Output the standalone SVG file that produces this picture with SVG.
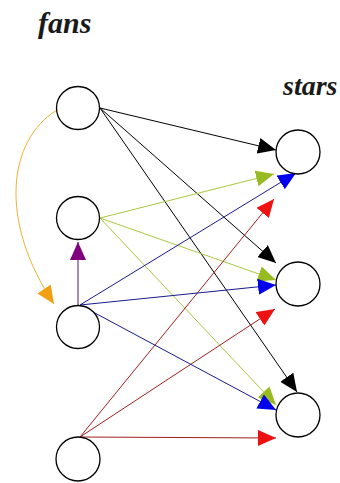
<svg xmlns="http://www.w3.org/2000/svg" width="340" height="483" viewBox="0 0 340 483">
<style>
.node{fill:#fff;stroke:#000;stroke-width:1.3}
.lbl{font-family:'Liberation Serif','Times New Roman',serif;font-weight:700;font-style:italic;fill:#1a1a1a}
.e{fill:none;stroke-width:1}
.k{stroke:#000}
.g{stroke:#a8c840}
.b{stroke:#1a1a8c}
.r{stroke:#a02020}
.p{stroke:#4a1a6a}
.o{stroke:#f0b030}
</style>
<defs>
<marker id="ak" markerUnits="userSpaceOnUse" markerWidth="18" markerHeight="16" refX="18" refY="8" orient="auto"><path d="M0,0 L18,8 L0,16 z" fill="#000"/></marker>
<marker id="ag" markerUnits="userSpaceOnUse" markerWidth="18" markerHeight="16" refX="18" refY="8" orient="auto"><path d="M0,0 L18,8 L0,16 z" fill="#99bb22"/></marker>
<marker id="ab" markerUnits="userSpaceOnUse" markerWidth="18" markerHeight="16" refX="18" refY="8" orient="auto"><path d="M0,0 L18,8 L0,16 z" fill="#0000ee"/></marker>
<marker id="ar" markerUnits="userSpaceOnUse" markerWidth="18" markerHeight="16" refX="18" refY="8" orient="auto"><path d="M0,0 L18,8 L0,16 z" fill="#ee1111"/></marker>
<marker id="ap" markerUnits="userSpaceOnUse" markerWidth="18" markerHeight="16" refX="18" refY="8" orient="auto"><path d="M0,0 L18,8 L0,16 z" fill="#800080"/></marker>
<marker id="ao" markerUnits="userSpaceOnUse" markerWidth="18" markerHeight="16" refX="18" refY="8" orient="auto"><path d="M0,0 L18,8 L0,16 z" fill="#f0a010"/></marker>
</defs>
<text class="lbl" x="38" y="33" font-size="30">fans</text>
<text class="lbl" x="283" y="95" font-size="28">stars</text>
<g id="connectors">
<path class="e o" d="M57,110 C8,140 -2,220 54,304" marker-end="url(#ao)"/>
<line class="e k" x1="100" y1="108" x2="276" y2="150" marker-end="url(#ak)"/>
<line class="e k" x1="100" y1="108" x2="276" y2="263" marker-end="url(#ak)"/>
<line class="e k" x1="100" y1="108" x2="297" y2="392" marker-end="url(#ak)"/>
<line class="e g" x1="100" y1="218" x2="274" y2="174" marker-end="url(#ag)"/>
<line class="e g" x1="100" y1="218" x2="276" y2="280" marker-end="url(#ag)"/>
<line class="e g" x1="100" y1="218" x2="276" y2="405" marker-end="url(#ag)"/>
<line class="e r" x1="80" y1="437" x2="274" y2="199" marker-end="url(#ar)"/>
<line class="e r" x1="80" y1="437" x2="275" y2="309" marker-end="url(#ar)"/>
<line class="e r" x1="80" y1="437" x2="276" y2="438" marker-end="url(#ar)"/>
<line class="e b" x1="80" y1="305" x2="296" y2="173" marker-end="url(#ab)"/>
<line class="e b" x1="80" y1="305" x2="276" y2="285" marker-end="url(#ab)"/>
<line class="e b" x1="80" y1="305" x2="276" y2="410" marker-end="url(#ab)"/>
<line class="e p" x1="78" y1="305" x2="78" y2="242" marker-end="url(#ap)"/>
</g>
<g id="fan1"><circle class="node" cx="78" cy="108" r="21.5"/></g>
<g id="fan2"><circle class="node" cx="78" cy="218" r="21.5"/></g>
<g id="fan3"><circle class="node" cx="78" cy="327" r="21.5"/></g>
<g id="fan4"><circle class="node" cx="78" cy="459" r="22"/></g>
<g id="star1"><circle class="node" cx="298" cy="152" r="22"/></g>
<g id="star2"><circle class="node" cx="298" cy="284" r="22"/></g>
<g id="star3"><circle class="node" cx="298" cy="415" r="22"/></g>
</svg>
